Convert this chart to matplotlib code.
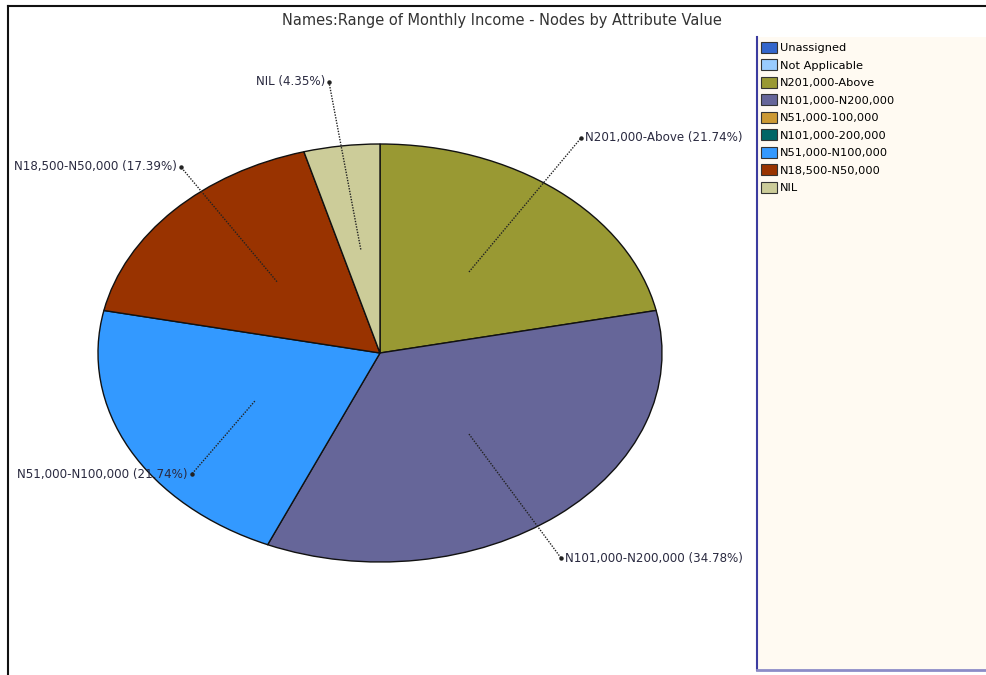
import matplotlib.pyplot as plt
from matplotlib.patches import Patch, Rectangle
from matplotlib.lines import Line2D
import numpy as np

# ---------------------------------------------------
# Data: node counts per income range
# ---------------------------------------------------

categories = ["Unassigned", "Not Applicable", "N201,000-Above", "N101,000-N200,000",
              "N51,000-100,000", "N101,000-200,000", "N51,000-N100,000",
              "N18,500-N50,000", "NIL"]
counts = [0, 0, 5, 8, 0, 0, 5, 4, 1]
colors = ["#3366CC", "#99CCFF", "#999933", "#666699", "#CC9933",
          "#006666", "#3399FF", "#993300", "#CCCC99"]

# label anchor points (pie units, ellipse radius = 1)
label_pos = {
    "N201,000-Above": (0.713, 1.029),
    "N101,000-N200,000": (0.642, -0.981),
    "N51,000-N100,000": (-0.667, -0.579),
    "N18,500-N50,000": (-0.706, 0.890),
    "NIL": (-0.181, 1.297),
}

# ---------------------------------------------------
# Plot
# ---------------------------------------------------

fig = plt.figure(figsize=(9.87, 6.75), dpi=100)
W, H = 987, 675

# pie area in pixels: centre (380, 353), rx 282, ry 209
ax = fig.add_axes([98 / W, 1 - 562 / H, 564 / W, 418 / H])

shown = [i for i, c in enumerate(counts) if c > 0]
vals = [counts[i] for i in shown]
total = sum(vals)

wedges, _ = ax.pie(vals, colors=[colors[i] for i in shown], startangle=90,
                   counterclock=False,
                   wedgeprops=dict(edgecolor="#111111", linewidth=1.0))
ax.set_aspect("auto")
ax.set_xlim(-1, 1)
ax.set_ylim(-1, 1)
ax.axis("off")

# leader lines + labels
angle = 90.0
for i in shown:
    span = 360.0 * counts[i] / total
    mid = np.deg2rad(angle - span / 2)
    angle -= span
    x0, y0 = 0.5 * np.cos(mid), 0.5 * np.sin(mid)
    x1, y1 = label_pos[categories[i]]
    ax.plot([x0, x1], [y0, y1], ls=(0, (1, 1)), color="#222222", lw=1.0,
            clip_on=False, zorder=3)
    ax.plot([x1], [y1], "o", ms=2.2, color="#222222", clip_on=False, zorder=3)
    pct = 100.0 * counts[i] / total
    text = f"{categories[i]} ({pct:.2f}%)"
    if x1 >= 0:
        ax.text(x1 + 0.014, y1, text, ha="left", va="center", fontsize=8.6,
                color="#2a2a40", clip_on=False, zorder=4)
    else:
        ax.text(x1 - 0.014, y1, text, ha="right", va="center", fontsize=8.6,
                color="#2a2a40", clip_on=False, zorder=4)

fig.text(502 / W, 1 - 20 / H, "Names:Range of Monthly Income - Nodes by Attribute Value",
         ha="center", va="center", fontsize=10.5, color="#333333")

# outer frame (left + top)
fig.add_artist(Line2D([8 / W, 8 / W], [0, 1 - 6 / H], color="#111111", lw=1.5))
fig.add_artist(Line2D([8 / W, 1], [1 - 6 / H, 1 - 6 / H], color="#111111", lw=1.5))

# legend panel
fig.add_artist(Rectangle((757 / W, 1 - 670 / H), 240 / W, 633 / H,
                         facecolor="#FFFAF2", edgecolor="none", zorder=0))
fig.add_artist(Line2D([757 / W, 757 / W], [1 - 670 / H, 1 - 37 / H], color="#3c3ca0", lw=1.5))
fig.add_artist(Line2D([757 / W, 1], [1 - 670 / H, 1 - 670 / H], color="#8c8cc8", lw=2))

handles = [Patch(facecolor=c, edgecolor="#333333", linewidth=0.8) for c in colors]
fig.legend(handles, categories, loc="upper left",
           bbox_to_anchor=(761 / W, 1 - 42 / H), frameon=False, fontsize=8.2,
           handlelength=1.4, handleheight=1.1, handletextpad=0.25,
           labelspacing=0.54, borderpad=0, borderaxespad=0)

fig.savefig("out.png", dpi=100)
